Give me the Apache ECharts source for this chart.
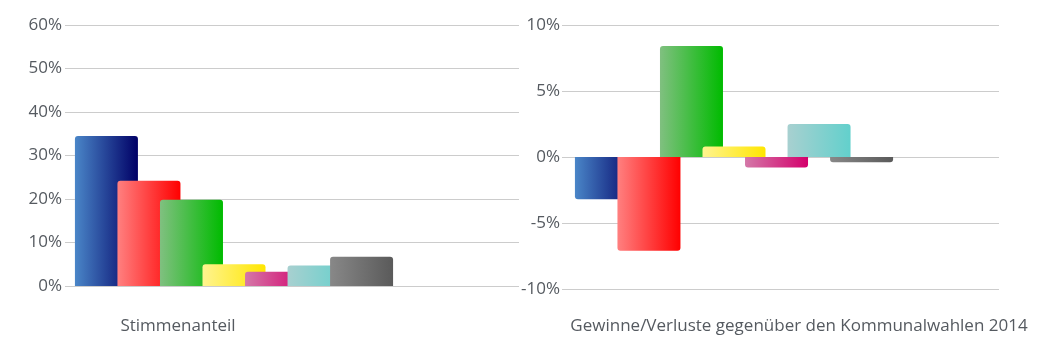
<!DOCTYPE html>
<html>
<head>
<meta charset="utf-8">
<script src="https://cdn.jsdelivr.net/npm/echarts@6/dist/echarts.min.js"></script>
<style>
html,body{margin:0;padding:0;background:#fff;}
#c{width:1064px;height:352px;}
</style>
</head>
<body>
<div id="c"></div>
<script>
// ---- data ----
const parties = ['CDU', 'SPD', 'GRÜNE', 'FDP', 'LINKE', 'AfD', 'Sonstige'];
const share = [34.5, 24.2, 19.8, 5.0, 3.3, 4.7, 6.7];
const change = [-3.2, -7.1, 8.4, 0.8, -0.8, 2.5, -0.4];
const leftTicks = { min: 0, max: 60, interval: 10 };
const rightTicks = { min: -10, max: 10, interval: 5 };
const leftLabel = 'Stimmenanteil';
const rightLabel = 'Gewinne/Verluste gegenüber den Kommunalwahlen 2014';
const gradients = [
  ['#4a86c8', '#000066'],
  ['#ff8080', '#ff0000'],
  ['#80c080', '#00bb00'],
  ['#fff490', '#ffe600'],
  ['#d478a8', '#d4006c'],
  ['#a8d0d0', '#62d0cc'],
  ['#888888', '#5a5a5a']
];

const FONT = '"Open Sans", "DejaVu Sans", sans-serif';
const labelColor = '#555a60';

function grad(c) {
  return new echarts.graphic.LinearGradient(0, 0, 1, 0, [
    { offset: 0, color: c[0] }, { offset: 1, color: c[1] }
  ]);
}

const grids = [
  { left: 65, right: 545, top: 25, bottom: 66 },   // 0: left axes/gridlines
  { left: 65, right: 661, top: 25, bottom: 66 },   // 1: left bars
  { left: 562, right: 65, top: 25, bottom: 63 },   // 2: right axes/gridlines
  { left: 562, right: 158, top: 25, bottom: 63 }   // 3: right bars
];

function yAx(gi, ticks, show, margin) {
  return {
    type: 'value', gridIndex: gi, min: ticks.min, max: ticks.max, interval: ticks.interval,
    show: show,
    axisLine: { show: false }, axisTick: { show: false },
    splitLine: { show: show, lineStyle: { color: '#cccccc', width: 1 } },
    axisLabel: { show: show, formatter: '{value}%', color: labelColor, fontSize: 17, fontFamily: FONT, margin: margin }
  };
}
function xAx(gi) {
  return {
    type: 'category', gridIndex: gi, data: [''], show: false
  };
}

const series = [];
function addBars(values, xi, yi) {
  values.forEach((v, i) => {
    series.push({
      type: 'bar', name: parties[i], xAxisIndex: xi, yAxisIndex: yi,
      barWidth: 63, barGap: '-32.5%',
      data: [{ value: v, itemStyle: { borderRadius: v >= 0 ? [3, 3, 0, 0] : [0, 0, 3, 3] } }],
      itemStyle: { color: grad(gradients[i]) },
      silent: true, animation: false
    });
  });
}
addBars(share, 1, 1);
addBars(change, 3, 3);

const chart = echarts.init(document.getElementById('c'), null, { renderer: 'canvas' });
chart.setOption({
  animation: false,
  backgroundColor: '#ffffff',
  grid: grids,
  xAxis: [xAx(0), xAx(1), xAx(2), xAx(3)],
  yAxis: [yAx(0, leftTicks, true, 3), yAx(1, leftTicks, false, 0), yAx(2, rightTicks, true, 2), yAx(3, rightTicks, false, 0)],
  series: series,
  graphic: [
    { type: 'text', x: 178, y: 326, style: { text: leftLabel, align: 'center', verticalAlign: 'middle', fill: labelColor, font: '17px ' + FONT } },
    { type: 'text', x: 799, y: 326, style: { text: rightLabel, align: 'center', verticalAlign: 'middle', fill: labelColor, font: '17px ' + FONT } }
  ]
});
</script>
</body>
</html>
